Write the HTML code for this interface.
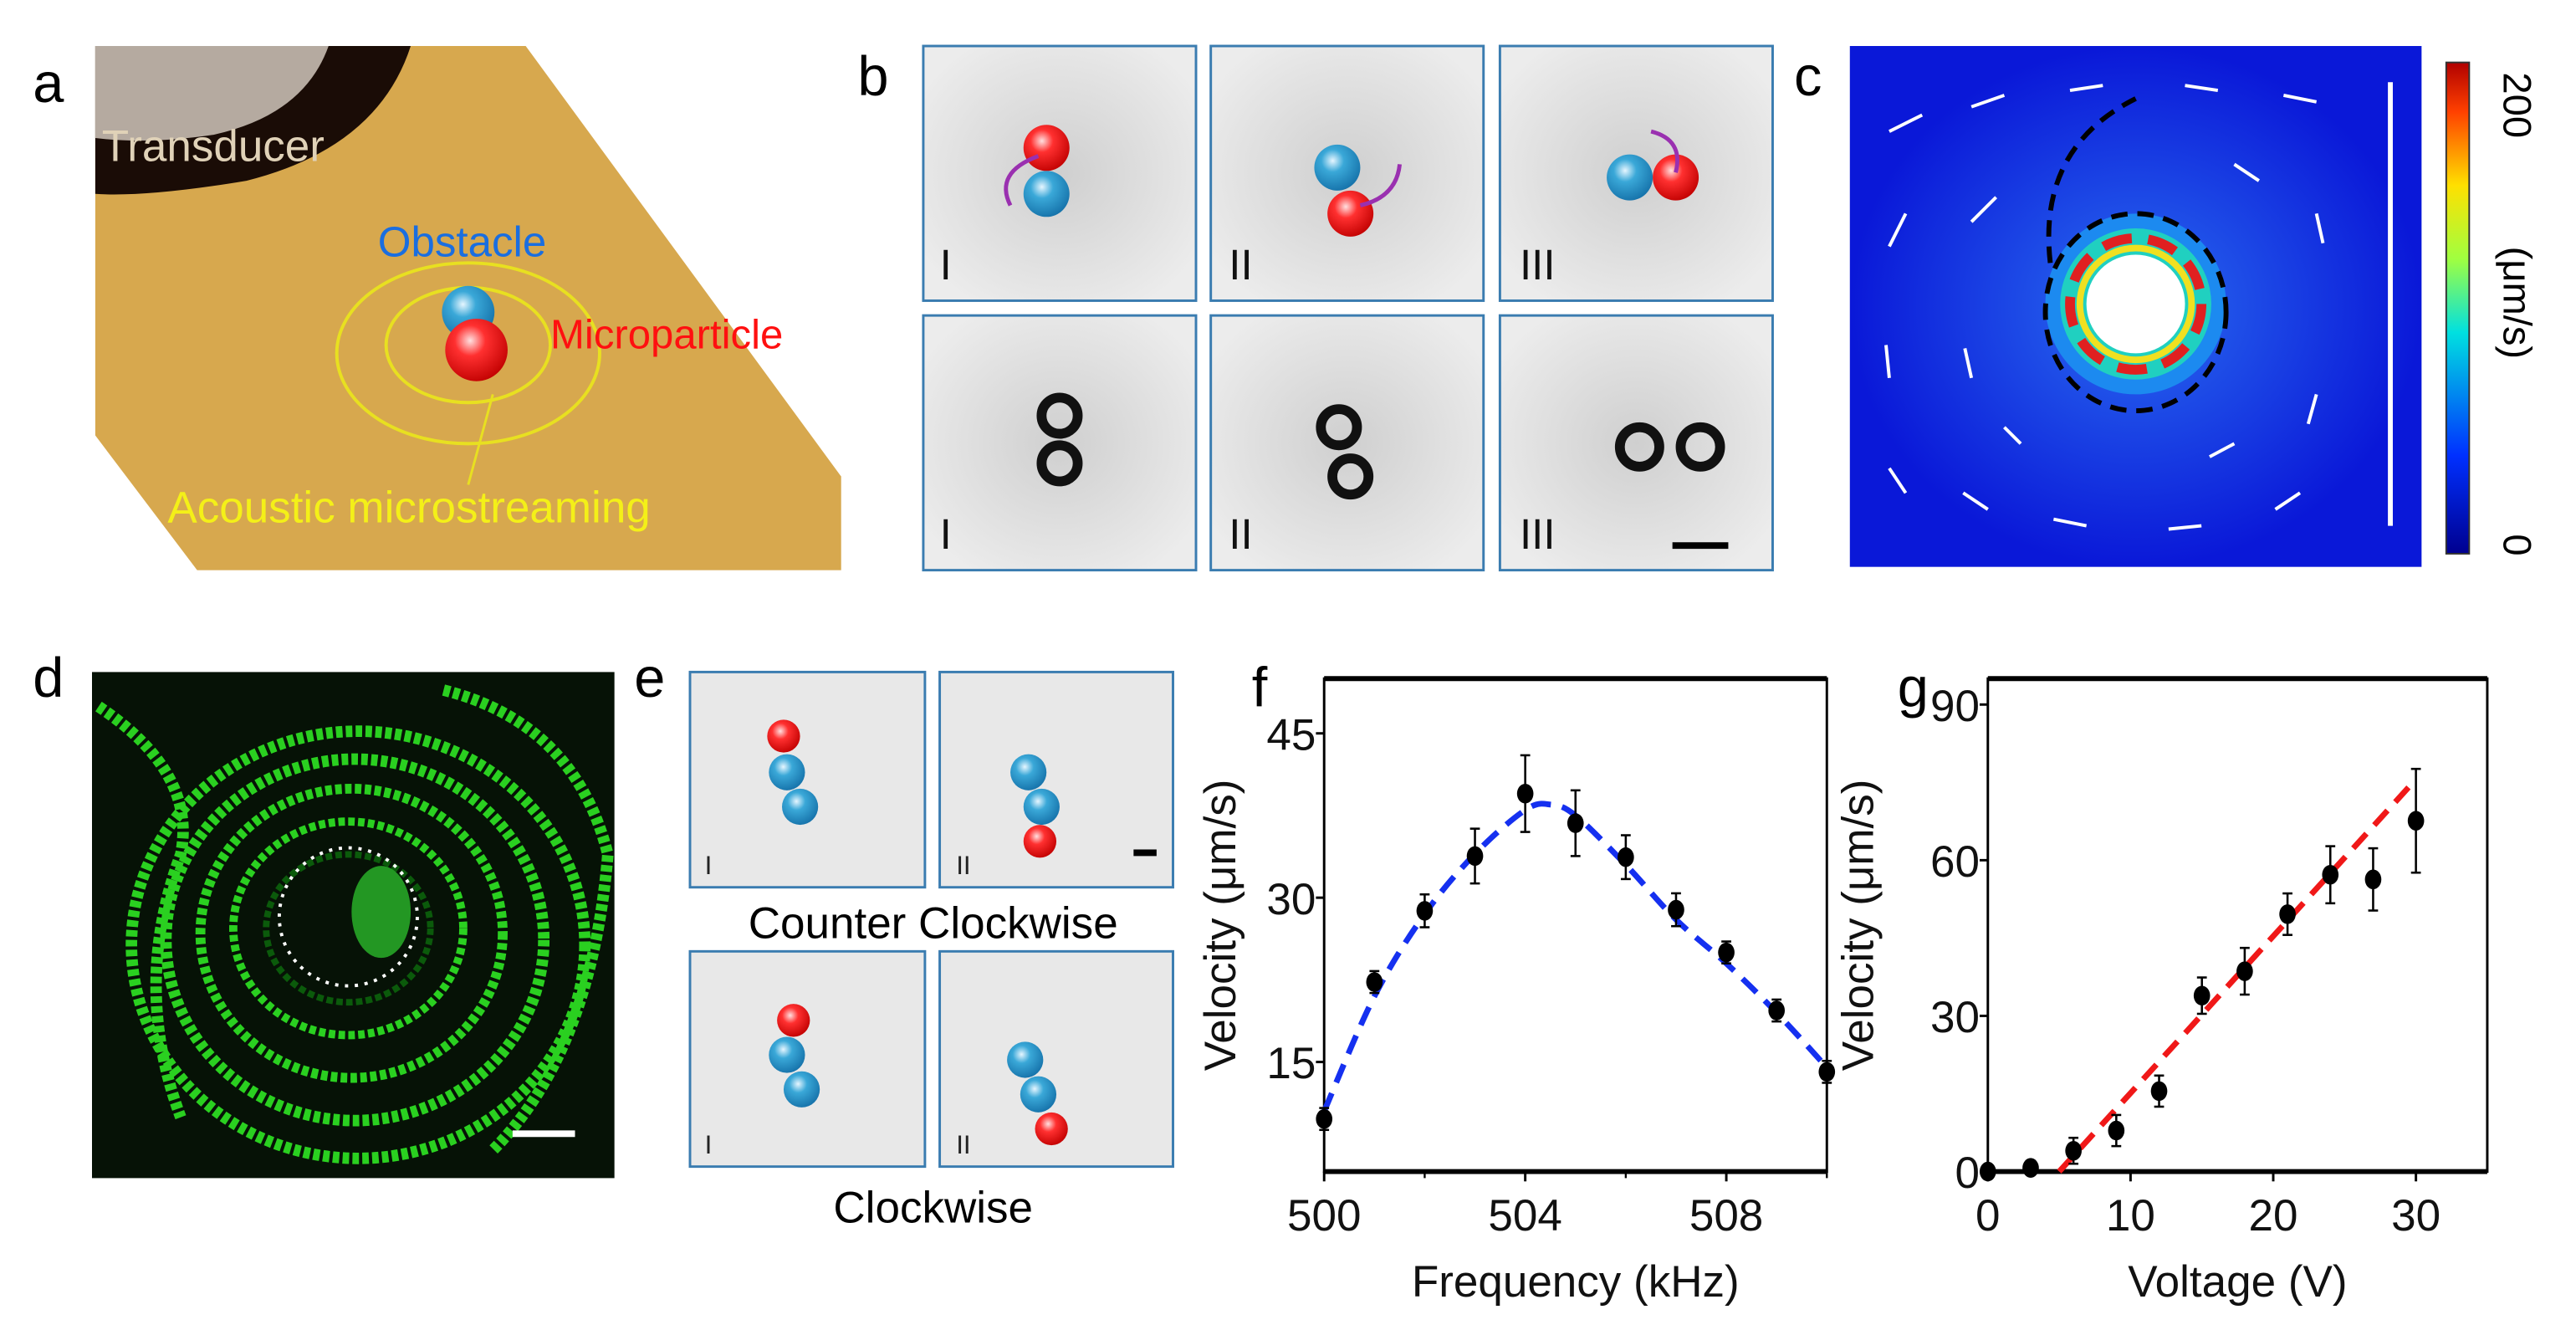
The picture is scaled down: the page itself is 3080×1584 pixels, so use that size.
<!DOCTYPE html>
<html><head><meta charset="utf-8"><style>
html,body{margin:0;padding:0;background:#fff;}
svg{display:block;font-family:"Liberation Sans",Arial,sans-serif;}
</style></head><body>
<svg id="fig" width="3080" height="1584" viewBox="0 0 1568 806.4" xmlns="http://www.w3.org/2000/svg">
<defs>
<radialGradient id="gBlue" cx="0.4" cy="0.35" r="0.7"><stop offset="0" stop-color="#e6f6ff"/><stop offset="0.35" stop-color="#3aa8d8"/><stop offset="1" stop-color="#1470a8"/></radialGradient>
<radialGradient id="gRed" cx="0.4" cy="0.35" r="0.7"><stop offset="0" stop-color="#ffe0e0"/><stop offset="0.35" stop-color="#ff3030"/><stop offset="1" stop-color="#c00000"/></radialGradient>
<radialGradient id="gGray" cx="0.5" cy="0.5" r="0.6"><stop offset="0" stop-color="#cfcfcf"/><stop offset="1" stop-color="#ececec"/></radialGradient>
<radialGradient id="gC" cx="0.5" cy="0.5" r="0.5"><stop offset="0" stop-color="#2a6cf0"/><stop offset="1" stop-color="#0a18d8"/></radialGradient>
</defs>

<!-- panel a -->
<g>
<text x="20" y="62" font-size="34">a</text>
<polygon points="58,28 320,28 512,290 512,347 120,347 58,265" fill="#d7a84e"/>
<path d="M58,28 L250,28 Q230,90 150,110 Q90,120 58,118 Z" fill="#1a0c06"/>
<path d="M58,28 L200,28 Q185,70 130,82 Q90,88 58,84 Z" fill="#b5aaa0"/>
<text x="62" y="98" font-size="27" fill="#e0d2b8">Transducer</text>
<ellipse cx="285" cy="215" rx="80" ry="55" fill="none" stroke="#e8e020" stroke-width="2"/>
<ellipse cx="285" cy="210" rx="50" ry="35" fill="none" stroke="#e8e020" stroke-width="2"/>
<circle cx="285" cy="190" r="16" fill="url(#gBlue)"/>
<circle cx="290" cy="213" r="19" fill="url(#gRed)"/>
<text x="230" y="156" font-size="26" fill="#1a6ee0">Obstacle</text>
<text x="335" y="212" font-size="25" fill="#ff1010">Microparticle</text>
<line x1="300" y1="240" x2="285" y2="295" stroke="#e8e020" stroke-width="1.5"/>
<text x="102" y="318" font-size="27" fill="#f4f018">Acoustic  microstreaming</text>
</g>

<!-- panel b -->
<g>
<text x="522" y="58" font-size="34">b</text>
<g stroke="#3a7cb0" stroke-width="1.5" fill="url(#gGray)">
<rect x="562" y="28" width="166" height="155"/><rect x="737" y="28" width="166" height="155"/><rect x="913" y="28" width="166" height="155"/>
<rect x="562" y="192" width="166" height="155"/><rect x="737" y="192" width="166" height="155"/><rect x="913" y="192" width="166" height="155"/>
</g>
<circle cx="637" cy="118" r="14" fill="url(#gBlue)"/><circle cx="637" cy="90" r="14" fill="url(#gRed)"/>
<path d="M632,95 Q605,105 615,125" fill="none" stroke="#9a30b0" stroke-width="2.5"/>
<circle cx="814" cy="102" r="14" fill="url(#gBlue)"/><circle cx="822" cy="130" r="14" fill="url(#gRed)"/>
<path d="M828,125 Q850,120 852,100" fill="none" stroke="#9a30b0" stroke-width="2.5"/>
<circle cx="992" cy="108" r="14" fill="url(#gBlue)"/><circle cx="1020" cy="108" r="14" fill="url(#gRed)"/>
<path d="M1020,105 Q1025,85 1005,80" fill="none" stroke="#9a30b0" stroke-width="2.5"/>
<g fill="none" stroke="#111" stroke-width="6">
<circle cx="645" cy="253" r="11"/><circle cx="645" cy="282" r="11"/>
<circle cx="815" cy="260" r="11"/><circle cx="822" cy="290" r="11"/>
<circle cx="998" cy="272" r="12"/><circle cx="1035" cy="272" r="12"/>
</g>
<line x1="1018" y1="332" x2="1052" y2="332" stroke="#000" stroke-width="4"/>
<g font-size="26" fill="#111">
<text x="572" y="170">I</text><text x="748" y="170">II</text><text x="925" y="170">III</text>
<text x="572" y="334">I</text><text x="748" y="334">II</text><text x="925" y="334">III</text>
</g>
</g>

<!-- panel c -->
<g>
<text x="1092" y="58" font-size="34">c</text>
<rect x="1126" y="28" width="348" height="317" fill="url(#gC)"/>
<circle cx="1300" cy="185" r="55" fill="#1c8af0"/>
<circle cx="1300" cy="185" r="46" fill="#20d0c0"/>
<circle cx="1300" cy="185" r="40" fill="none" stroke="#e02020" stroke-width="6" stroke-dasharray="18 10"/>
<circle cx="1300" cy="185" r="34" fill="none" stroke="#f0e020" stroke-width="4"/>
<circle cx="1300" cy="185" r="30" fill="#fff"/>
<ellipse cx="1300" cy="190" rx="55" ry="60" fill="none" stroke="#000" stroke-width="3" stroke-dasharray="10 6"/>
<path d="M1248,160 Q1240,90 1300,60" fill="none" stroke="#000" stroke-width="3" stroke-dasharray="10 6"/>
<line x1="1455" y1="320" x2="1455" y2="50" stroke="#fff" stroke-width="3"/>
<g stroke="#fff" stroke-width="2">
<line x1="1150" y1="80" x2="1170" y2="70"/><line x1="1200" y1="65" x2="1220" y2="58"/><line x1="1260" y1="55" x2="1280" y2="52"/><line x1="1330" y1="52" x2="1350" y2="55"/><line x1="1390" y1="58" x2="1410" y2="62"/>
<line x1="1150" y1="150" x2="1160" y2="130"/><line x1="1200" y1="135" x2="1215" y2="120"/><line x1="1150" y1="230" x2="1148" y2="210"/><line x1="1200" y1="230" x2="1196" y2="212"/>
<line x1="1160" y1="300" x2="1150" y2="285"/><line x1="1210" y1="310" x2="1195" y2="300"/><line x1="1270" y1="320" x2="1250" y2="316"/><line x1="1340" y1="320" x2="1320" y2="322"/><line x1="1400" y1="300" x2="1385" y2="310"/>
<line x1="1410" y1="240" x2="1405" y2="258"/><line x1="1410" y1="130" x2="1414" y2="148"/><line x1="1360" y1="100" x2="1375" y2="110"/><line x1="1230" y1="270" x2="1220" y2="260"/><line x1="1360" y1="270" x2="1345" y2="278"/>
</g>
<defs><linearGradient id="cb" x1="0" y1="1" x2="0" y2="0"><stop offset="0" stop-color="#00008f"/><stop offset="0.2" stop-color="#0030ff"/><stop offset="0.45" stop-color="#00e0e0"/><stop offset="0.6" stop-color="#a0ff40"/><stop offset="0.75" stop-color="#ffe000"/><stop offset="0.9" stop-color="#ff4000"/><stop offset="1" stop-color="#b00000"/></linearGradient></defs>
<rect x="1489" y="38" width="14" height="299" fill="url(#cb)" stroke="#333" stroke-width="1"/>
<text transform="translate(1524,44) rotate(90)" font-size="24">200</text>
<text transform="translate(1524,325) rotate(90)" font-size="24">0</text>
<text transform="translate(1524,150) rotate(90)" font-size="24">(μm/s)</text>
</g>

<!-- panel d -->
<g>
<text x="20" y="424" font-size="34">d</text>
<rect x="56" y="409" width="318" height="308" fill="#061206"/>
<g fill="none" stroke="#2ad020" stroke-dasharray="4 2">
<ellipse cx="212" cy="565" rx="50" ry="45" stroke-width="4" stroke="#0b5a0b"/>
<ellipse cx="212" cy="565" rx="70" ry="65" stroke-width="5"/>
<ellipse cx="214" cy="568" rx="92" ry="88" stroke-width="6"/>
<ellipse cx="216" cy="572" rx="115" ry="110" stroke-width="7"/>
<ellipse cx="218" cy="575" rx="138" ry="130" stroke-width="7"/>
<path d="M60,430 Q120,470 110,520 Q80,600 110,680" stroke-width="7"/>
<path d="M270,420 Q350,440 370,520 Q360,640 300,700" stroke-width="7"/>
</g>
<circle cx="212" cy="558" r="42" fill="none" stroke="#fff" stroke-width="2" stroke-dasharray="2 4"/>
<ellipse cx="232" cy="555" rx="18" ry="28" fill="#30d030" opacity="0.7"/>
<line x1="312" y1="690" x2="350" y2="690" stroke="#fff" stroke-width="4"/>
</g>

<!-- panel e -->
<g>
<text x="386" y="424" font-size="34">e</text>
<g stroke="#3a7cb0" stroke-width="1.5" fill="#e8e8e8">
<rect x="420" y="409" width="143" height="131"/><rect x="572" y="409" width="142" height="131"/>
<rect x="420" y="579" width="143" height="131"/><rect x="572" y="579" width="142" height="131"/>
</g>
<circle cx="477" cy="448" r="10" fill="url(#gRed)"/><circle cx="479" cy="470" r="11" fill="url(#gBlue)"/><circle cx="487" cy="491" r="11" fill="url(#gBlue)"/>
<circle cx="626" cy="470" r="11" fill="url(#gBlue)"/><circle cx="634" cy="491" r="11" fill="url(#gBlue)"/><circle cx="633" cy="512" r="10" fill="url(#gRed)"/>
<circle cx="483" cy="621" r="10" fill="url(#gRed)"/><circle cx="479" cy="642" r="11" fill="url(#gBlue)"/><circle cx="488" cy="663" r="11" fill="url(#gBlue)"/>
<circle cx="624" cy="645" r="11" fill="url(#gBlue)"/><circle cx="632" cy="666" r="11" fill="url(#gBlue)"/><circle cx="640" cy="687" r="10" fill="url(#gRed)"/>
<line x1="690" y1="519" x2="704" y2="519" stroke="#000" stroke-width="4"/>
<g font-size="16" fill="#222"><text x="429" y="532">I</text><text x="582" y="532">II</text><text x="429" y="702">I</text><text x="582" y="702">II</text></g>
<text x="568" y="571" font-size="27" text-anchor="middle">Counter Clockwise</text>
<text x="568" y="744" font-size="27" text-anchor="middle">Clockwise</text>
</g>

<g id="chartF"></g>
<g id="chartG"></g>
</svg>
<script>
// Panel f data
const fFreq = [500,501,502,503,504,505,506,507,508,509,510];
const fVel = [9.8,22.3,28.8,33.8,39.5,36.8,33.7,28.9,25.0,19.7,14.1];
const fErr = [1,1,1.5,2.5,3.5,3,2,1.5,1,1,1];
const fFitX = [500,501,502,503,504,504.5,505,506,507,508,509,510];
const fFitY = [10.5,21,28.5,34,38,38.5,37.5,33,28,24,19.5,14.5];
const fXTicks = [500,504,508];
const fYTicks = [15,30,45];
// Panel g data
const gVolt = [0,3,6,9,12,15,18,21,24,27,30];
const gVel = [0,0.7,4,7.9,15.5,33.9,38.6,49.6,57.2,56.3,67.6];
const gErr = [0.5,1,2.5,3,3,3.5,4.5,4,5.5,6,10];
const gFitX = [5,30];
const gFitY = [0,75.6];
const gXTicks = [0,10,20,30];
const gYTicks = [0,30,60,90];

const NS = 'http://www.w3.org/2000/svg';
function mk(parent, tag, attrs){const e=document.createElementNS(NS,tag);for(const k in attrs)e.setAttribute(k,attrs[k]);parent.appendChild(e);return e;}
function smooth(pts){let d='M'+pts[0][0]+','+pts[0][1];for(let i=0;i<pts.length-1;i++){const p0=pts[Math.max(0,i-1)],p1=pts[i],p2=pts[i+1],p3=pts[Math.min(pts.length-1,i+2)];
const c1=[p1[0]+(p2[0]-p0[0])/6,p1[1]+(p2[1]-p0[1])/6],c2=[p2[0]-(p3[0]-p1[0])/6,p2[1]-(p3[1]-p1[1])/6];d+=' C'+c1+' '+c2+' '+p2;}return d;}

function chart(g, o){
  const sx=v=>o.x0+(v-o.xmin)/(o.xmax-o.xmin)*(o.x1-o.x0);
  const sy=v=>o.y1-(v-o.ymin)/(o.ymax-o.ymin)*(o.y1-o.y0);
  const lab=mk(g,'text',{x:o.lx,y:430,'font-size':34});lab.textContent=o.letter;
  
  
  const fr=mk(g,'rect',{x:o.x0,y:o.y0,width:o.x1-o.x0,height:o.y1-o.y0,fill:'none',stroke:'#000','stroke-width':1.5});
  
  
  mk(g,'line',{x1:o.x0,y1:o.y0,x2:o.x1,y2:o.y0,stroke:'#000','stroke-width':3});
  mk(g,'line',{x1:o.x0,y1:o.y1,x2:o.x1,y2:o.y1,stroke:'#000','stroke-width':3});
  o.xt.forEach(v=>{mk(g,'line',{x1:sx(v),y1:o.y1,x2:sx(v),y2:o.y1+6,stroke:'#000','stroke-width':1.5});
    const t=mk(g,'text',{x:sx(v),y:o.y1+36,'font-size':27,'text-anchor':'middle',fill:'#111'});t.textContent=v;
    
    });
  if(o.xminor) o.xminor.forEach(v=>mk(g,'line',{x1:sx(v),y1:o.y1,x2:sx(v),y2:o.y1+4,stroke:'#000','stroke-width':1.2}));
  o.yt.forEach(v=>{mk(g,'line',{x1:o.x0-5,y1:sy(v),x2:o.x0,y2:sy(v),stroke:'#000','stroke-width':1.5});
    const t=mk(g,'text',{x:o.x0-5,y:sy(v)+10,'font-size':27,'text-anchor':'end',fill:'#111'});t.textContent=v;
    
    });
  const yl=mk(g,'text',{transform:`translate(${o.ylx},${(o.y0+o.y1)/2}) rotate(-90)`,'font-size':27,'text-anchor':'middle',fill:'#111'});yl.textContent='Velocity (μm/s)';
  
  
  const xl=mk(g,'text',{x:(o.x0+o.x1)/2,y:o.y1+76,'font-size':27,'text-anchor':'middle',fill:'#111'});xl.textContent=o.xlabel;
  
  
  const pts=o.fx.map((v,i)=>[sx(v),sy(o.fy[i])]);
  const fit=mk(g,'path',{d:o.linear?('M'+pts[0]+' L'+pts[1]):smooth(pts),fill:'none',stroke:o.fitColor,'stroke-width':3.5,'stroke-dasharray':'12 7'});
  
  
  o.xs.forEach((v,i)=>{
    const eb=mk(g,'line',{x1:sx(v),y1:sy(o.ys[i]+o.es[i]),x2:sx(v),y2:sy(o.ys[i]-o.es[i]),stroke:'#000','stroke-width':1.3});
    
    
    mk(g,'line',{x1:sx(v)-3,y1:sy(o.ys[i]+o.es[i]),x2:sx(v)+3,y2:sy(o.ys[i]+o.es[i]),stroke:'#000','stroke-width':1.3});
    mk(g,'line',{x1:sx(v)-3,y1:sy(o.ys[i]-o.es[i]),x2:sx(v)+3,y2:sy(o.ys[i]-o.es[i]),stroke:'#000','stroke-width':1.3});
    const p=mk(g,'ellipse',{cx:sx(v),cy:sy(o.ys[i]),rx:5,ry:6,fill:'#000'});
    
    
  });
}
chart(document.getElementById('chartF'),{letter:'f',lx:762,x0:806,x1:1112,y0:413,y1:713,xmin:500,xmax:510,ymin:5,ymax:50,
  xt:fXTicks,xminor:[502,506,510],yt:fYTicks,xs:fFreq,ys:fVel,es:fErr,fx:fFitX,fy:fFitY,fitColor:'#1530f0',xlabel:'Frequency (kHz)',ylx:752});
chart(document.getElementById('chartG'),{letter:'g',lx:1155,x0:1210,x1:1514,y0:413,y1:713,xmin:0,xmax:35,ymin:0,ymax:95,
  xt:gXTicks,yt:gYTicks,xs:gVolt,ys:gVel,es:gErr,fx:gFitX,fy:gFitY,fitColor:'#f01818',linear:true,xlabel:'Voltage (V)',ylx:1140});
</script>
</body></html>
